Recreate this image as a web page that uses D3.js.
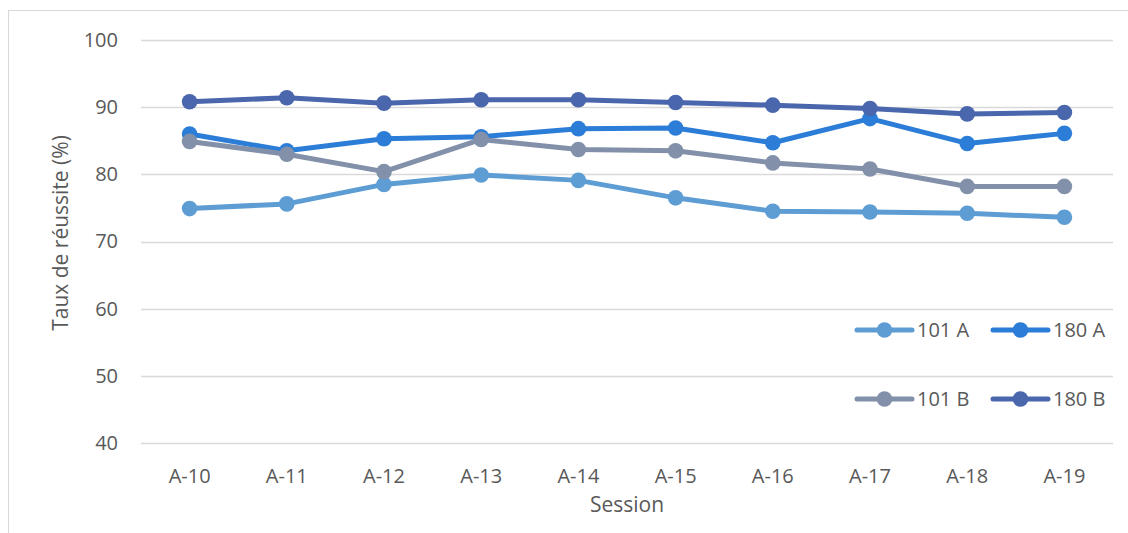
<!DOCTYPE html>
<html>
<head>
<meta charset="utf-8">
<script src="https://cdn.jsdelivr.net/npm/d3@7/dist/d3.min.js"></script>
<style>
  html, body { margin: 0; padding: 0; background: #fff; }
  svg { display: block; }
  text { font-family: "Open Sans", "Noto Sans", "DejaVu Sans", sans-serif; fill: #595959; }
</style>
</head>
<body>
<svg id="chart" width="1128" height="533"></svg>
<script>
// Sessions on the x axis
const sessions = ["A-10", "A-11", "A-12", "A-13", "A-14", "A-15", "A-16", "A-17", "A-18", "A-19"];

// Success rate (%) per course and session
const values101A = [74.9, 75.6, 78.5, 79.9, 79.1, 76.5, 74.5, 74.4, 74.2, 73.6];
const values180A = [86.0, 83.5, 85.3, 85.6, 86.8, 86.9, 84.7, 88.3, 84.6, 86.1];
const values101B = [84.9, 83.0, 80.4, 85.2, 83.7, 83.5, 81.7, 80.8, 78.2, 78.2];
const values180B = [90.8, 91.4, 90.6, 91.1, 91.1, 90.7, 90.3, 89.8, 89.0, 89.2];

const yTicks = [40, 50, 60, 70, 80, 90, 100];

const seriesNames = ["101 A", "180 A", "101 B", "180 B"];
const seriesColors = ["#5E9DD3", "#2B7DD7", "#8290A9", "#4A66AC"];
const seriesValues = [values101A, values180A, values101B, values180B];

const series = seriesNames.map((name, i) => ({ name, color: seriesColors[i], values: seriesValues[i] }));

const svg = d3.select("#chart");

// Outer chart frame
svg.append("rect")
  .attr("x", 8.5).attr("y", 10.5)
  .attr("width", 1140).attr("height", 540)
  .attr("fill", "none").attr("stroke", "#d9d9d9").attr("stroke-width", 1);

const plot = { left: 141, right: 1113, top: 40, bottom: 443 };

const x = d3.scaleBand().domain(sessions).range([plot.left, plot.right]);
const y = d3.scaleLinear().domain([40, 100]).range([plot.bottom, plot.top]);

// Horizontal gridlines
svg.append("g")
  .selectAll("line")
  .data(yTicks)
  .join("line")
  .attr("x1", plot.left).attr("x2", plot.right)
  .attr("y1", d => Math.round(y(d)) + 0.5).attr("y2", d => Math.round(y(d)) + 0.5)
  .attr("stroke", "#d9d9d9").attr("stroke-width", 1.3);

// Y axis labels
const yAxis = d3.axisLeft(y).tickValues(yTicks).tickSize(0).tickPadding(23);
const gy = svg.append("g").attr("transform", `translate(${plot.left},0)`).call(yAxis);
gy.select(".domain").remove();
gy.selectAll("text").style("font-size", "20px").attr("fill", "#595959");

// X axis labels
const xAxis = d3.axisBottom(x).tickSize(0).tickPadding(0);
const gx = svg.append("g").attr("transform", `translate(0,${plot.bottom})`).call(xAxis);
gx.select(".domain").remove();
gx.selectAll("text").attr("y", 40).attr("dy", null).style("font-size", "20px").attr("fill", "#595959");

// Axis titles
svg.append("text")
  .attr("x", (plot.left + plot.right) / 2).attr("y", 512)
  .attr("text-anchor", "middle").style("font-size", "21px")
  .text("Session");

svg.append("text")
  .attr("transform", `translate(68,233) rotate(-90)`)
  .attr("text-anchor", "middle").style("font-size", "21px")
  .text("Taux de réussite (%)");

// Lines with markers
const line = d3.line()
  .x((d, i) => x(sessions[i]) + x.bandwidth() / 2)
  .y(d => y(d));

const groups = svg.append("g").selectAll("g")
  .data(series)
  .join("g");

groups.append("path")
  .attr("d", d => line(d.values))
  .attr("fill", "none")
  .attr("stroke", d => d.color)
  .attr("stroke-width", 5)
  .attr("stroke-linejoin", "round")
  .attr("stroke-linecap", "round");

groups.selectAll("circle")
  .data(d => d.values.map((v, i) => ({ v, i, color: d.color })))
  .join("circle")
  .attr("cx", d => x(sessions[d.i]) + x.bandwidth() / 2)
  .attr("cy", d => y(d.v))
  .attr("r", 7.8)
  .attr("fill", d => d.color);

// Legend (two rows, two columns)
const legendPos = [
  { x: 857, y: 330 }, { x: 993, y: 330 },
  { x: 857, y: 399 }, { x: 993, y: 399 }
];

const legend = svg.append("g").selectAll("g")
  .data(series)
  .join("g")
  .attr("transform", (d, i) => `translate(${legendPos[i].x},${legendPos[i].y})`);

legend.append("line")
  .attr("x1", 0).attr("x2", 55).attr("y1", 0).attr("y2", 0)
  .attr("stroke", d => d.color).attr("stroke-width", 5)
  .attr("stroke-linecap", "round");

legend.append("circle")
  .attr("cx", 27.5).attr("cy", 0).attr("r", 7.8)
  .attr("fill", d => d.color);

legend.append("text")
  .attr("x", 60).attr("y", 7)
  .style("font-size", "20px")
  .text(d => d.name);
</script>
</body>
</html>
